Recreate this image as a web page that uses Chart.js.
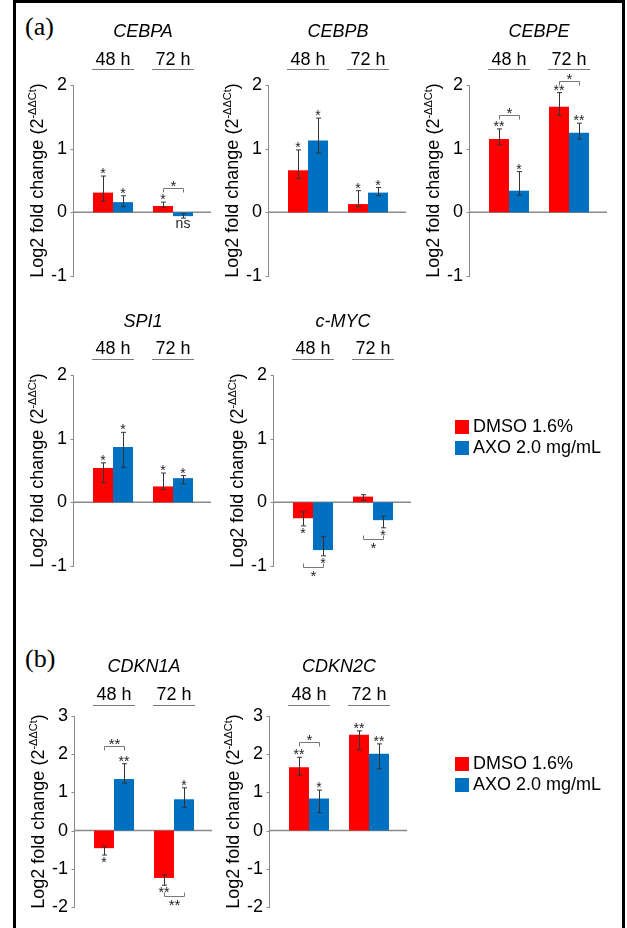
<!DOCTYPE html>
<html>
<head>
<meta charset="utf-8">
<script src="https://cdn.jsdelivr.net/npm/chart.js@4.4.0/dist/chart.umd.min.js"></script>
<style>
  html, body { margin: 0; padding: 0; background: #fff; }
  body { width: 627px; height: 928px; position: relative; overflow: hidden;
         font-family: "Liberation Sans", Arial, sans-serif; }
  #frame { position: absolute; left: 13px; top: 0; width: 606px; height: 1000px;
           border: 3px solid #000; border-bottom: none; box-sizing: content-box; }
  canvas { position: absolute; }
  .plabel { position: absolute; font-family: "Liberation Serif", "Times New Roman", serif;
            font-size: 26px; line-height: 26px; color: #000; }
  .legend { position: absolute; left: 455px; font-size: 18px; color: #000; }
  .legend .row { display: flex; align-items: center; height: 21px; white-space: nowrap; }
  .legend .sw { width: 14px; height: 14px; display: inline-block; margin-right: 4px; }
</style>
</head>
<body>
<div id="frame"></div>
<div class="plabel" style="left:25px; top:14px;">(a)</div>
<div class="plabel" style="left:25px; top:646px;">(b)</div>

<script>
// ---- shared categories / series ----
const timePoints = ['48 h', '72 h'];
const seriesNames = ['DMSO 1.6%', 'AXO 2.0 mg/mL'];
const seriesColors = ['#FF0000', '#0070C0'];

// ---- CEBPA ----
const cebpaDmso = [0.31, 0.10];
const cebpaDmsoErr = [[0.17, 0.57], [0.08, 0.16]];
const cebpaDmsoSig = ['*', '*'];
const cebpaAxo = [0.16, -0.06];
const cebpaAxoErr = [[0.09, 0.26], [-0.09, -0.02]];
const cebpaAxoSig = ['*', 'ns'];
const cebpaBrackets = [{ group: 1, at: 0.38, label: '*' }];

// ---- CEBPB ----
const cebpbDmso = [0.66, 0.13];
const cebpbDmsoErr = [[0.53, 0.98], [0.09, 0.34]];
const cebpbDmsoSig = ['*', '*'];
const cebpbAxo = [1.13, 0.31];
const cebpbAxoErr = [[0.93, 1.48], [0.26, 0.39]];
const cebpbAxoSig = ['*', '*'];
const cebpbBrackets = [];

// ---- CEBPE ----
const cebpeDmso = [1.15, 1.66];
const cebpeDmsoErr = [[1.06, 1.31], [1.52, 1.88]];
const cebpeDmsoSig = ['**', '**'];
const cebpeAxo = [0.34, 1.25];
const cebpeAxoErr = [[0.27, 0.64], [1.15, 1.40]];
const cebpeAxoSig = ['*', '**'];
const cebpeBrackets = [{ group: 0, at: 1.53, label: '*' }, { group: 1, at: 2.07, label: '*' }];

// ---- SPI1 ----
const spi1Dmso = [0.54, 0.25];
const spi1DmsoErr = [[0.31, 0.62], [0.20, 0.46]];
const spi1DmsoSig = ['*', '*'];
const spi1Axo = [0.87, 0.38];
const spi1AxoErr = [[0.55, 1.10], [0.29, 0.42]];
const spi1AxoSig = ['*', '*'];
const spi1Brackets = [];

// ---- c-MYC ----
const cmycDmso = [-0.25, 0.09];
const cmycDmsoErr = [[-0.37, -0.15], [0.03, 0.12]];
const cmycDmsoSig = ['*', ''];
const cmycAxo = [-0.75, -0.28];
const cmycAxoErr = [[-0.84, -0.54], [-0.40, -0.22]];
const cmycAxoSig = ['*', '*'];
const cmycBrackets = [{ group: 0, at: -1.02, label: '*' }, { group: 1, at: -0.57, label: '*' }];

// ---- CDKN1A ----
const cdkn1aDmso = [-0.46, -1.24];
const cdkn1aDmsoErr = [[-0.64, -0.41], [-1.43, -1.16]];
const cdkn1aDmsoSig = ['*', '**'];
const cdkn1aAxo = [1.35, 0.82];
const cdkn1aAxoErr = [[1.24, 1.75], [0.61, 1.12]];
const cdkn1aAxoSig = ['**', '*'];
const cdkn1aBrackets = [{ group: 0, at: 2.22, label: '**' }, { group: 1, at: -1.72, label: '**' }];

// ---- CDKN2C ----
const cdkn2cDmso = [1.66, 2.51];
const cdkn2cDmsoErr = [[1.45, 1.92], [2.11, 2.61]];
const cdkn2cDmsoSig = ['**', '**'];
const cdkn2cAxo = [0.84, 2.01];
const cdkn2cAxoErr = [[0.47, 1.06], [1.62, 2.27]];
const cdkn2cAxoSig = ['*', '**'];
const cdkn2cBrackets = [{ group: 0, at: 2.31, label: '*' }];

// ---- y ranges (tick labels run min..max in steps of 1) ----
const rangeA = { min: -1, max: 2 };
const rangeB = { min: -2, max: 3 };

// ---- page layout ----
const FONT = '"Liberation Sans", Arial, sans-serif';
const TXT = 18;
const rows = {
  a1: { titleY: 32,  headerY: 60,  underlineY: 69,  chartTop: 85,  chartBottom: 276 },
  a2: { titleY: 322, headerY: 349, underlineY: 359, chartTop: 375, chartBottom: 566 },
  b:  { titleY: 667, headerY: 695, underlineY: 705, chartTop: 716, chartBottom: 907 }
};

const panels = [
  { gene: 'CEBPA',  row: 'a1', axisX: 73,  range: rangeA, dmso: cebpaDmso,  dmsoErr: cebpaDmsoErr,  dmsoSig: cebpaDmsoSig,  axo: cebpaAxo,  axoErr: cebpaAxoErr,  axoSig: cebpaAxoSig,  brackets: cebpaBrackets },
  { gene: 'CEBPB',  row: 'a1', axisX: 268, range: rangeA, dmso: cebpbDmso,  dmsoErr: cebpbDmsoErr,  dmsoSig: cebpbDmsoSig,  axo: cebpbAxo,  axoErr: cebpbAxoErr,  axoSig: cebpbAxoSig,  brackets: cebpbBrackets },
  { gene: 'CEBPE',  row: 'a1', axisX: 469, range: rangeA, dmso: cebpeDmso,  dmsoErr: cebpeDmsoErr,  dmsoSig: cebpeDmsoSig,  axo: cebpeAxo,  axoErr: cebpeAxoErr,  axoSig: cebpeAxoSig,  brackets: cebpeBrackets },
  { gene: 'SPI1',   row: 'a2', axisX: 73,  range: rangeA, dmso: spi1Dmso,   dmsoErr: spi1DmsoErr,   dmsoSig: spi1DmsoSig,   axo: spi1Axo,   axoErr: spi1AxoErr,   axoSig: spi1AxoSig,   brackets: spi1Brackets },
  { gene: 'c-MYC',  row: 'a2', axisX: 273, range: rangeA, dmso: cmycDmso,   dmsoErr: cmycDmsoErr,   dmsoSig: cmycDmsoSig,   axo: cmycAxo,   axoErr: cmycAxoErr,   axoSig: cmycAxoSig,   brackets: cmycBrackets },
  { gene: 'CDKN1A', row: 'b',  axisX: 74,  range: rangeB, dmso: cdkn1aDmso, dmsoErr: cdkn1aDmsoErr, dmsoSig: cdkn1aDmsoSig, axo: cdkn1aAxo, axoErr: cdkn1aAxoErr, axoSig: cdkn1aAxoSig, brackets: cdkn1aBrackets },
  { gene: 'CDKN2C', row: 'b',  axisX: 269, range: rangeB, dmso: cdkn2cDmso, dmsoErr: cdkn2cDmsoErr, dmsoSig: cdkn2cDmsoSig, axo: cdkn2cAxo, axoErr: cdkn2cAxoErr, axoSig: cdkn2cAxoSig, brackets: cdkn2cBrackets }
];

// Places a short label so its ink touches edgeY from above or below.
function drawInk(ctx, text, cx, edgeY, side) {
  const m = ctx.measureText(text);
  const asc = m.actualBoundingBoxAscent, desc = m.actualBoundingBoxDescent;
  const base = side === 'above' ? edgeY - desc : edgeY + asc;
  ctx.fillText(text, cx, base);
}

// Draws the offset y axis line, zero line, header rules, error bars,
// significance marks, comparison brackets and the y-axis title.
const panelDecor = {
  id: 'panelDecor',
  beforeDatasetsDraw(chart, args, o) {
    const { ctx, chartArea: a, scales: { x, y } } = chart;
    const ax = Math.round(a.left - o.axisGap) + 0.5;
    ctx.save();
    ctx.strokeStyle = '#8a8a8a';
    ctx.lineWidth = 1;
    ctx.beginPath();
    ctx.moveTo(ax, Math.round(y.getPixelForValue(y.max)));
    ctx.lineTo(ax, Math.round(y.getPixelForValue(y.min)) + 1);
    y.ticks.forEach(t => {
      const py = Math.round(y.getPixelForValue(t.value)) + 0.5;
      ctx.moveTo(ax - 3, py);
      ctx.lineTo(ax, py);
    });
    ctx.stroke();
    // zero line
    const z = y.getPixelForValue(0);
    ctx.lineWidth = 1.5;
    ctx.beginPath();
    ctx.moveTo(ax, z);
    ctx.lineTo(a.right + 8, z);
    ctx.stroke();
    // rules under the time-point headers
    ctx.lineWidth = 1;
    ctx.strokeStyle = '#7a7a7a';
    ctx.beginPath();
    x.ticks.forEach((t, i) => {
      const cx = x.getPixelForValue(i);
      const uy = Math.round(a.top - o.underlineOffset) + 0.5;
      ctx.moveTo(cx - 21, uy);
      ctx.lineTo(cx + 21, uy);
    });
    ctx.stroke();
    ctx.restore();
  },
  afterDatasetsDraw(chart, args, o) {
    const { ctx, chartArea: a, scales: { y } } = chart;
    ctx.save();
    // error bars and per-bar significance marks
    chart.data.datasets.forEach((ds, d) => {
      const meta = chart.getDatasetMeta(d);
      meta.data.forEach((bar, i) => {
        const [lo, hi] = ds.err[i];
        const bx = Math.round(bar.x) + 0.5;
        const yl = y.getPixelForValue(lo), yh = y.getPixelForValue(hi);
        ctx.strokeStyle = '#333';
        ctx.lineWidth = 1;
        ctx.beginPath();
        ctx.moveTo(bx, yh); ctx.lineTo(bx, yl);
        ctx.moveTo(bx - 2.5, yh); ctx.lineTo(bx + 2.5, yh);
        ctx.moveTo(bx - 2.5, yl); ctx.lineTo(bx + 2.5, yl);
        ctx.stroke();
        const s = ds.sig[i];
        if (s) {
          ctx.fillStyle = '#222';
          ctx.textAlign = 'center';
          ctx.textBaseline = 'alphabetic';
          ctx.font = (s === 'ns' ? 14 : 14) + 'px ' + FONT;
          if (ds.data[i] >= 0) drawInk(ctx, s, bar.x, yh - 2, 'above');
          else drawInk(ctx, s, bar.x, yl + 2, 'below');
        }
      });
    });
    // comparison brackets between the two bars of a time point
    const m0 = chart.getDatasetMeta(0), m1 = chart.getDatasetMeta(1);
    (o.brackets || []).forEach(b => {
      const x1 = Math.round(m0.data[b.group].x) + 0.5;
      const x2 = Math.round(m1.data[b.group].x) + 0.5;
      const py = Math.round(y.getPixelForValue(b.at)) + 0.5;
      const leg = b.at >= 0 ? 4 : -4;
      ctx.strokeStyle = '#777';
      ctx.lineWidth = 1;
      ctx.beginPath();
      ctx.moveTo(x1, py + leg); ctx.lineTo(x1, py); ctx.lineTo(x2, py); ctx.lineTo(x2, py + leg);
      ctx.stroke();
      ctx.fillStyle = '#222';
      ctx.textAlign = 'center';
      ctx.font = '15px ' + FONT;
      if (b.at >= 0) drawInk(ctx, b.label, (x1 + x2) / 2, py - 2, 'above');
      else drawInk(ctx, b.label, (x1 + x2) / 2, py + 3, 'below');
    });
    // y-axis title with superscript exponent
    const yTop = y.getPixelForValue(y.max), yBot = y.getPixelForValue(y.min);
    const cy = (yTop + yBot) / 2;
    const baseX = a.left - o.axisGap - 30;
    const main1 = 'Log2 fold change (2', sup = '-\u0394\u0394Ct', main2 = ')';
    ctx.translate(baseX, cy);
    ctx.rotate(-Math.PI / 2);
    ctx.fillStyle = '#000';
    ctx.textAlign = 'left';
    ctx.textBaseline = 'alphabetic';
    ctx.font = TXT + 'px ' + FONT;
    const w1 = ctx.measureText(main1).width, w3 = ctx.measureText(main2).width;
    ctx.font = '11px ' + FONT;
    const w2 = ctx.measureText(sup).width;
    let u = -(w1 + w2 + w3) / 2;
    ctx.font = TXT + 'px ' + FONT;
    ctx.fillText(main1, u, 0); u += w1;
    ctx.font = '11px ' + FONT;
    ctx.fillText(sup, u, -7); u += w2;
    ctx.font = TXT + 'px ' + FONT;
    ctx.fillText(main2, u, 0);
    ctx.restore();
  }
};

function makePanel(p) {
  const L = rows[p.row];
  const axisGap = 10;
  const canvasLeft = p.axisX - 60;
  const canvasTop = L.titleY - 24;
  const W = 270;
  const H = L.chartBottom + 30 - canvasTop;
  const c = document.createElement('canvas');
  c.width = W; c.height = H;
  c.style.left = canvasLeft + 'px';
  c.style.top = canvasTop + 'px';
  c.style.width = W + 'px';
  c.style.height = H + 'px';
  document.body.appendChild(c);

  const lineH = TXT * 1.2;
  const padTop = L.titleY - lineH / 2 - canvasTop;
  const xAxisH = L.chartTop - L.titleY - lineH / 2;
  const headerPad = L.chartTop - L.headerY - lineH / 2;

  new Chart(c, {
    type: 'bar',
    data: {
      labels: timePoints,
      datasets: [
        { label: seriesNames[0], data: p.dmso, backgroundColor: seriesColors[0], borderWidth: 0, err: p.dmsoErr, sig: p.dmsoSig },
        { label: seriesNames[1], data: p.axo,  backgroundColor: seriesColors[1], borderWidth: 0, err: p.axoErr,  sig: p.axoSig }
      ]
    },
    options: {
      responsive: false,
      animation: false,
      devicePixelRatio: 1,
      layout: { padding: { left: 0, right: 80, top: padTop, bottom: H - (L.chartBottom - canvasTop) } },
      datasets: { bar: { categoryPercentage: 2 / 3, barPercentage: 1 } },
      plugins: {
        legend: { display: false },
        tooltip: { enabled: false },
        title: {
          display: true, text: p.gene, fullSize: false, padding: 0, color: '#000',
          font: { family: FONT, size: TXT, style: 'italic', weight: 'normal', lineHeight: 1.2 }
        },
        panelDecor: { axisGap: axisGap, underlineOffset: L.chartTop - L.underlineY, brackets: p.brackets }
      },
      scales: {
        x: {
          position: 'top',
          grid: { display: false, drawTicks: false },
          border: { display: false },
          ticks: { padding: headerPad, color: '#000', maxRotation: 0, font: { family: FONT, size: TXT, lineHeight: 1.2 } },
          afterFit(s) { s.height = xAxisH; }
        },
        y: {
          min: p.range.min, max: p.range.max,
          grid: { display: false, drawTicks: false },
          border: { display: false },
          ticks: { stepSize: 1, padding: 16, color: '#000', font: { family: FONT, size: TXT } },
          afterFit(s) { s.width = 70; }
        }
      }
    },
    plugins: [panelDecor]
  });
}

panels.forEach(makePanel);

// legends built from the series names and colours
function makeLegend(top) {
  const box = document.createElement('div');
  box.className = 'legend';
  box.style.top = top + 'px';
  seriesNames.forEach((name, i) => {
    const r = document.createElement('div');
    r.className = 'row';
    const sw = document.createElement('span');
    sw.className = 'sw';
    sw.style.background = seriesColors[i];
    r.appendChild(sw);
    r.appendChild(document.createTextNode(name));
    box.appendChild(r);
  });
  document.body.appendChild(box);
}
makeLegend(416);
makeLegend(753);
</script>
</body>
</html>
